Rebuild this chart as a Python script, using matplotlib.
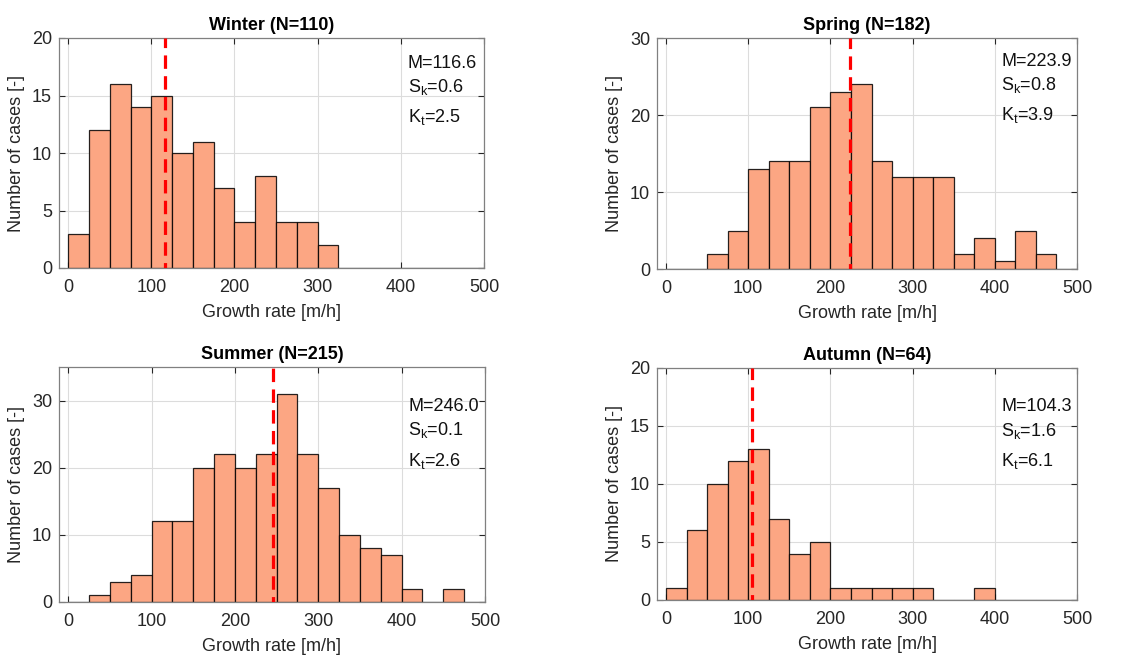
import numpy as np
import matplotlib
matplotlib.use("Agg")
import matplotlib.pyplot as plt

plt.rcParams['font.family'] = ['Liberation Sans', 'DejaVu Sans']
plt.rcParams['mathtext.fontset'] = 'custom'
plt.rcParams['mathtext.rm'] = 'Liberation Sans'

bin_edges = list(range(0, 501, 25))
seasons = ["Winter", "Spring", "Summer", "Autumn"]
n_cases = [110, 182, 215, 64]
winter_counts = [3, 12, 16, 14, 15, 10, 11, 7, 4, 8, 4, 4, 2, 0, 0, 0, 0, 0, 0, 0]
spring_counts = [0, 0, 2, 5, 13, 14, 14, 21, 23, 24, 14, 12, 12, 12, 2, 4, 1, 5, 2, 0]
summer_counts = [0, 1, 3, 4, 12, 12, 20, 22, 20, 22, 31, 22, 17, 10, 8, 7, 2, 0, 2, 0]
autumn_counts = [1, 6, 10, 12, 13, 7, 4, 5, 1, 1, 1, 1, 1, 0, 0, 1, 0, 0, 0, 0]
means = [116.6, 223.9, 246.0, 104.3]
skewness = [0.6, 0.8, 0.1, 1.6]
kurtosis = [2.5, 3.9, 2.6, 6.1]
ymax = [20, 30, 35, 20]
yticks = [[0, 5, 10, 15, 20], [0, 10, 20, 30], [0, 10, 20, 30], [0, 5, 10, 15, 20]]
text_y = [0.891, 0.90, 0.834, 0.832]

all_counts = [winter_counts, spring_counts, summer_counts, autumn_counts]

W, H = 1138, 657
fig = plt.figure(figsize=(W / 100, H / 100), dpi=100)
# axes rectangles in pixels: left, top, right, bottom
rects = [(59, 38, 484, 268), (657, 38, 1077, 269), (59, 367, 485, 602), (657, 368, 1077, 600)]

bar_color = '#fca683'
frame_color = '#808080'
fs = 13

for i, (l, t, r, b) in enumerate(rects):
    ax = fig.add_axes([l / W, 1 - b / H, (r - l) / W, (b - t) / H])
    counts = all_counts[i]
    edges = np.array(bin_edges)
    ax.bar(edges[:-1], counts, width=25, align='edge', color=bar_color,
           edgecolor=(0, 0, 0, 0.85), linewidth=0.9, zorder=2)
    ax.plot([means[i], means[i]], [0, ymax[i]], color='red', lw=2.3,
            linestyle=(2.5, (4.2, 2.3)), zorder=3)
    ax.set_xlim(-11, 500)
    ax.set_ylim(0, ymax[i])
    ax.set_xticks([0, 100, 200, 300, 400, 500])
    ax.set_yticks(yticks[i])
    ax.grid(True, color='#dcdcdc', linewidth=0.8, zorder=0)
    ax.set_axisbelow(True)
    ax.tick_params(direction='in', length=4, width=0.8, colors='#262626',
                   labelsize=fs, top=True, right=True)
    ax.tick_params(axis='x', pad=8)
    ax.tick_params(axis='y', pad=5)
    for sp in ax.spines.values():
        sp.set_color(frame_color)
        sp.set_linewidth(0.9)
    ax.set_title(f"{seasons[i]} (N={n_cases[i]})", fontsize=fs,
                 fontweight='bold', pad=6)
    ax.set_xlabel("Growth rate [m/h]", fontsize=fs, color='#262626', labelpad=6)
    ax.set_ylabel("Number of cases [-]", fontsize=fs, color='#262626', labelpad=5)
    ax.text(0.82, text_y[i], f"M={means[i]:.1f}", transform=ax.transAxes,
            fontsize=fs, va='center', ha='left', color='#111111')
    ax.text(0.82, text_y[i] - 0.103, "S$_\\mathregular{k}$=" + f"{skewness[i]:.1f}",
            transform=ax.transAxes, fontsize=fs, va='center', ha='left', color='#111111')
    ax.text(0.82, text_y[i] - 0.235, "K$_\\mathregular{t}$=" + f"{kurtosis[i]:.1f}",
            transform=ax.transAxes, fontsize=fs, va='center', ha='left', color='#111111')

fig.savefig("out.png", dpi=100)
